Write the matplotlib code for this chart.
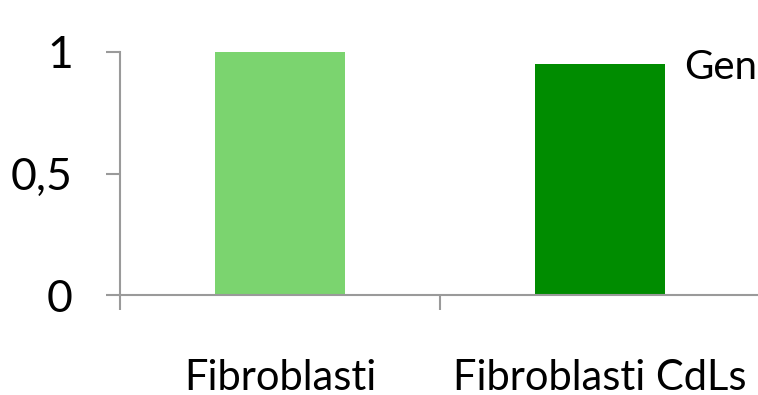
import matplotlib
matplotlib.use("Agg")
import matplotlib.pyplot as plt

categories = ["Fibroblasti", "Fibroblasti CdLs"]
values = [1.0, 0.95]
bar_colors = ["#7bd46f", "#008c00"]
y_ticks = [0, 0.5, 1]
y_tick_labels = ["0", "0,5", "1"]
legend_text = "Gen"

plt.rcParams['font.family'] = ['Lato', 'DejaVu Sans']

fig = plt.figure(figsize=(7.58, 3.95), dpi=100)
W, H = 758, 395
ax = fig.add_axes([120 / W, (H - 295) / H, 640 / W, 243 / H])

x = list(range(len(categories)))
ax.bar(x, values, width=0.406, color=bar_colors, zorder=2)

ax.set_xlim(-0.5, 1.5)
ax.set_ylim(0, 1)
ax.set_yticks(y_ticks)
ax.set_yticklabels(y_tick_labels, fontsize=32)
ax.set_xticks([-0.5, 0.5, 1.5])
ax.set_xticklabels([])

# category labels, placed on their baseline below the axis
for i, name in zip(x, categories):
    ax.text(i, -95 / 243, name, transform=ax.get_xaxis_transform(),
            ha="center", va="baseline", fontsize=30)

grey = "#9a9a9a"
for side in ["top", "right"]:
    ax.spines[side].set_visible(False)
for side in ["left", "bottom"]:
    ax.spines[side].set_color(grey)
    ax.spines[side].set_linewidth(1.5)
ax.tick_params(axis="y", which="major", length=10, width=1.5, color=grey, pad=24)
ax.tick_params(axis="x", which="major", length=11, width=1.5, color=grey, direction="out")

fig.text(684 / W, (H - 79) / H, legend_text, fontsize=29, va="baseline", ha="left")

fig.savefig("out.png", dpi=100)
